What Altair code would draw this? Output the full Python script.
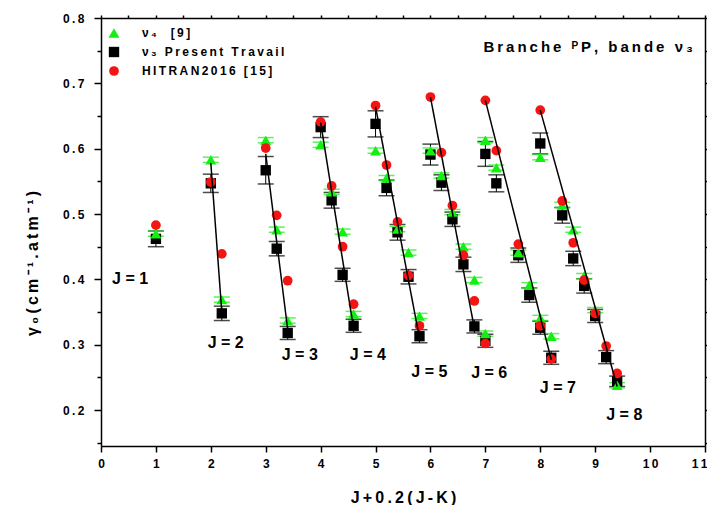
import altair as alt
import pandas as pd

THIN = "\u2009"


def sp(s):
    """Letter-spaced rendering of a label (thin spaces between characters)."""
    return THIN.join(list(s))


# ---------------- data ----------------
S_NU4 = sp("ν₄  [9]")
S_NU3 = sp("ν₃ Present Travail")
S_HIT = sp(" HITRAN2016 [15]")
series_names = [S_NU4, S_NU3, S_HIT]

jval = [1, 2, 2, 3, 3, 3, 4, 4, 4, 4, 5, 5, 5, 5, 5, 6, 6, 6, 6, 6, 6,
        7, 7, 7, 7, 7, 7, 8, 8, 8, 8, 8, 8, 8]
xpos = [1.0, 2.0, 2.2, 3.0, 3.2, 3.4, 4.0, 4.2, 4.4, 4.6, 5.0, 5.2, 5.4, 5.6, 5.8,
        6.0, 6.2, 6.4, 6.6, 6.8, 7.0, 7.0, 7.2, 7.6, 7.8, 8.0, 8.2,
        8.0, 8.4, 8.6, 8.8, 9.0, 9.2, 9.4]
nu4 = [0.470, 0.583, 0.369, 0.613, 0.476, 0.337, 0.606, 0.534, 0.473, 0.347,
       0.597, 0.555, 0.477, 0.441, 0.344, 0.597, 0.559, 0.503, 0.450, 0.399, 0.317,
       0.613, 0.571, 0.441, 0.391, 0.341, 0.313,
       0.587, 0.514, 0.476, 0.405, 0.353, None, 0.238]
nu4_err = [0.004] * 34
nu3 = [0.462, 0.547, 0.348, 0.567, 0.447, 0.318, 0.633, 0.521, 0.407, 0.329,
       0.638, 0.540, 0.472, 0.404, 0.313, 0.591, 0.548, 0.492, 0.423, 0.328, 0.306,
       0.592, 0.547, 0.437, 0.376, 0.326, 0.280,
       0.608, 0.498, 0.432, 0.390, 0.344, 0.281, 0.244]
nu3_err = [0.012, 0.014, 0.011, 0.021, 0.011, 0.010, 0.016, 0.012, 0.010, 0.010,
           0.020, 0.012, 0.012, 0.011, 0.010, 0.016, 0.012, 0.011, 0.011, 0.010, 0.010,
           0.019, 0.013, 0.011, 0.011, 0.010, 0.010,
           0.016, 0.012, 0.011, 0.011, 0.010, 0.010, 0.008]
hitran = [0.483, 0.549, 0.439, 0.601, 0.498, 0.398, 0.641, 0.543, 0.450, 0.362,
          0.666, 0.575, 0.488, 0.406, 0.329, 0.679, 0.594, 0.513, 0.437, 0.367, 0.302,
          0.674, 0.597, 0.454, None, 0.329, 0.278,
          0.659, 0.520, 0.456, 0.399, 0.348, 0.298, 0.256]

# fitted lines (one per J)
fit_j = [2, 3, 4, 5, 6, 7, 8]
fit_x0 = [2.0, 3.0, 4.0, 5.0, 6.0, 7.0, 8.0]
fit_y0 = [0.578, 0.592, 0.640, 0.664, 0.679, 0.674, 0.659]
fit_x1 = [2.2, 3.4, 4.6, 5.8, 6.8, 8.2, 9.4]
fit_y1 = [0.350, 0.323, 0.325, 0.310, 0.325, 0.277, 0.236]

# J labels
jl_text = ["J = 1", "J = 2", "J = 3", "J = 4", "J = 5", "J = 6", "J = 7", "J = 8"]
jl_x = [0.53, 2.27, 3.62, 4.86, 5.98, 7.07, 8.32, 9.53]
jl_y = [0.400, 0.303, 0.284, 0.284, 0.258, 0.256, 0.233, 0.192]

note_text = [sp("Branche ᴾP, bande ν₃")]
note_x = [10.78]
note_y = [0.7556]

x_ticks = [i * 0.5 for i in range(0, 23)]
y_ticks = [round(0.15 + 0.05 * i, 2) for i in range(0, 14)]

x_title = sp("J+0.2(J-K)")
y_title = sp("γ₀(cm⁻¹.atm⁻¹)")

# ---------------- tables ----------------
rows = []
for i in range(len(xpos)):
    rows.append(dict(x=xpos[i], J=jval[i], series=S_NU3, v=nu3[i],
                     lo=nu3[i] - nu3_err[i], hi=nu3[i] + nu3_err[i]))
for i in range(len(xpos)):
    if nu4[i] is not None:
        rows.append(dict(x=xpos[i], J=jval[i], series=S_NU4, v=nu4[i],
                         lo=nu4[i] - nu4_err[i], hi=nu4[i] + nu4_err[i]))
for i in range(len(xpos)):
    if hitran[i] is not None:
        rows.append(dict(x=xpos[i], J=jval[i], series=S_HIT, v=hitran[i],
                         lo=hitran[i], hi=hitran[i]))
pts = pd.DataFrame(rows)
sq = pts[pts.series == S_NU3]
tri = pts[pts.series == S_NU4]

fit_rows = []
for k in range(len(fit_j)):
    fit_rows.append(dict(J=fit_j[k], x=fit_x0[k], v=fit_y0[k]))
    fit_rows.append(dict(J=fit_j[k], x=fit_x1[k], v=fit_y1[k]))
fits = pd.DataFrame(fit_rows)

labels = pd.DataFrame(dict(t=jl_text, x=jl_x, v=jl_y))
note = pd.DataFrame(dict(t=note_text, x=note_x, v=note_y))

# ---------------- styling ----------------
FONT = "Liberation Sans"
GREEN = "#12F012"
RED = "#F51414"
BLACK = "#000000"

xscale = alt.Scale(domain=[0, 11], nice=False, zero=False)
yscale = alt.Scale(domain=[0.145, 0.8], nice=False, zero=False)

spaced_label = "join(split(datum.label, ''), '" + THIN + "')"

x_axis = alt.Axis(
    values=x_ticks, format="d",
    labelExpr="datum.value % 1 == 0 ? " + spaced_label + " : ''",
    labelAlign={"condition": {"test": "datum.value >= 11", "value": "right"}, "value": "center"},
    labelOffset={"condition": {"test": "datum.value >= 11", "value": 2}, "value": 0},
    tickSize={"condition": {"test": "datum.value % 1 != 0", "value": 3}, "value": 6},
    labelPadding=6, labelFlush=False, grid=False,
    title=x_title, titleFontSize=16, titleY=51, titleBaseline="middle",
)
y_axis = alt.Axis(
    values=y_ticks, format=".1f",
    labelExpr="abs(datum.value * 10 - round(datum.value * 10)) < 0.001 ? " + spaced_label + " : ''",
    tickSize={"condition": {"test": "abs(datum.value * 10 - round(datum.value * 10)) > 0.001", "value": 4}, "value": 7},
    labelPadding=10, labelFlush=False, grid=False,
    title=y_title, titleFontSize=16, titleAngle=270,
    titleX=-69, titleY=245, titleBaseline="middle", titleAlign="center",
)
x_top = alt.Axis(orient="top", values=x_ticks, labels=False, tickSize=3, title="", grid=False)
y_right = alt.Axis(orient="right", values=y_ticks, labels=False, tickSize=3, title="", grid=False)

legend = alt.Legend(
    title=None, orient="none", legendX=7, legendY=9, padding=0,
    labelFont=FONT, labelFontWeight="bold", labelFontSize=12, labelColor=BLACK,
    symbolSize=110, symbolStrokeWidth=0, rowPadding=7, labelOffset=22,
)

# ---------------- layers ----------------
sq_bars = alt.Chart(sq).mark_rule(color=BLACK, strokeWidth=1).encode(
    x=alt.X("x:Q", scale=xscale, axis=None),
    y=alt.Y("lo:Q", scale=yscale, axis=None),
    y2="hi:Q",
)
sq_caps_lo = alt.Chart(sq).mark_tick(color=BLACK, orient="horizontal", size=16, thickness=1.5).encode(
    x=alt.X("x:Q", scale=xscale, axis=None),
    y=alt.Y("lo:Q", scale=yscale, axis=None),
)
sq_caps_hi = alt.Chart(sq).mark_tick(color=BLACK, orient="horizontal", size=16, thickness=1.5).encode(
    x=alt.X("x:Q", scale=xscale, axis=None),
    y=alt.Y("hi:Q", scale=yscale, axis=None),
)
tri_caps_lo = alt.Chart(tri).mark_tick(color=GREEN, orient="horizontal", size=16, thickness=1.5).encode(
    x=alt.X("x:Q", scale=xscale, axis=None),
    y=alt.Y("lo:Q", scale=yscale, axis=None),
)
tri_caps_hi = alt.Chart(tri).mark_tick(color=GREEN, orient="horizontal", size=16, thickness=1.5).encode(
    x=alt.X("x:Q", scale=xscale, axis=None),
    y=alt.Y("hi:Q", scale=yscale, axis=None),
)

points = alt.Chart(pts).mark_point(filled=True, opacity=1, strokeWidth=0).encode(
    x=alt.X("x:Q", scale=xscale, axis=x_axis),
    y=alt.Y("v:Q", scale=yscale, axis=y_axis),
    shape=alt.Shape("series:N", scale=alt.Scale(domain=series_names,
                    range=["triangle-up", "square", "circle"]), legend=legend),
    color=alt.Color("series:N", scale=alt.Scale(domain=series_names,
                    range=[GREEN, BLACK, RED]), legend=legend),
    size=alt.Size("series:N", scale=alt.Scale(domain=series_names,
                  range=[120, 95, 100]), legend=None),
)

lines = alt.Chart(fits).mark_line(color=BLACK, strokeWidth=1.5).encode(
    x=alt.X("x:Q", scale=xscale, axis=x_top),
    y=alt.Y("v:Q", scale=yscale, axis=y_right),
    detail="J:N",
)

jtext = alt.Chart(labels).mark_text(font=FONT, fontWeight="bold", fontSize=16,
                                     color=BLACK, align="center", baseline="middle").encode(
    x=alt.X("x:Q", scale=xscale, axis=None),
    y=alt.Y("v:Q", scale=yscale, axis=None),
    text="t:N",
)
ntext = alt.Chart(note).mark_text(font=FONT, fontWeight="bold", fontSize=15,
                                   color=BLACK, align="right", baseline="middle").encode(
    x=alt.X("x:Q", scale=xscale, axis=None),
    y=alt.Y("v:Q", scale=yscale, axis=None),
    text="t:N",
)

chart = alt.layer(
    sq_bars, sq_caps_lo, sq_caps_hi, tri_caps_lo, tri_caps_hi,
    points, lines, jtext, ntext,
).resolve_axis(x="independent", y="independent").properties(
    width=604, height=428,
    autosize=alt.AutoSizeParams(type="none"),
    padding={"left": 93, "top": 10, "right": 2, "bottom": 59},
).configure_view(stroke=None).configure_axis(
    domainColor=BLACK, domainWidth=1.5, tickColor=BLACK, tickWidth=1.5,
    labelFont=FONT, labelFontWeight="bold", labelFontSize=12, labelColor=BLACK,
    titleFont=FONT, titleFontWeight="bold", titleColor=BLACK,
)

chart.save("out.html", embed_options={"renderer": "svg", "actions": False})
